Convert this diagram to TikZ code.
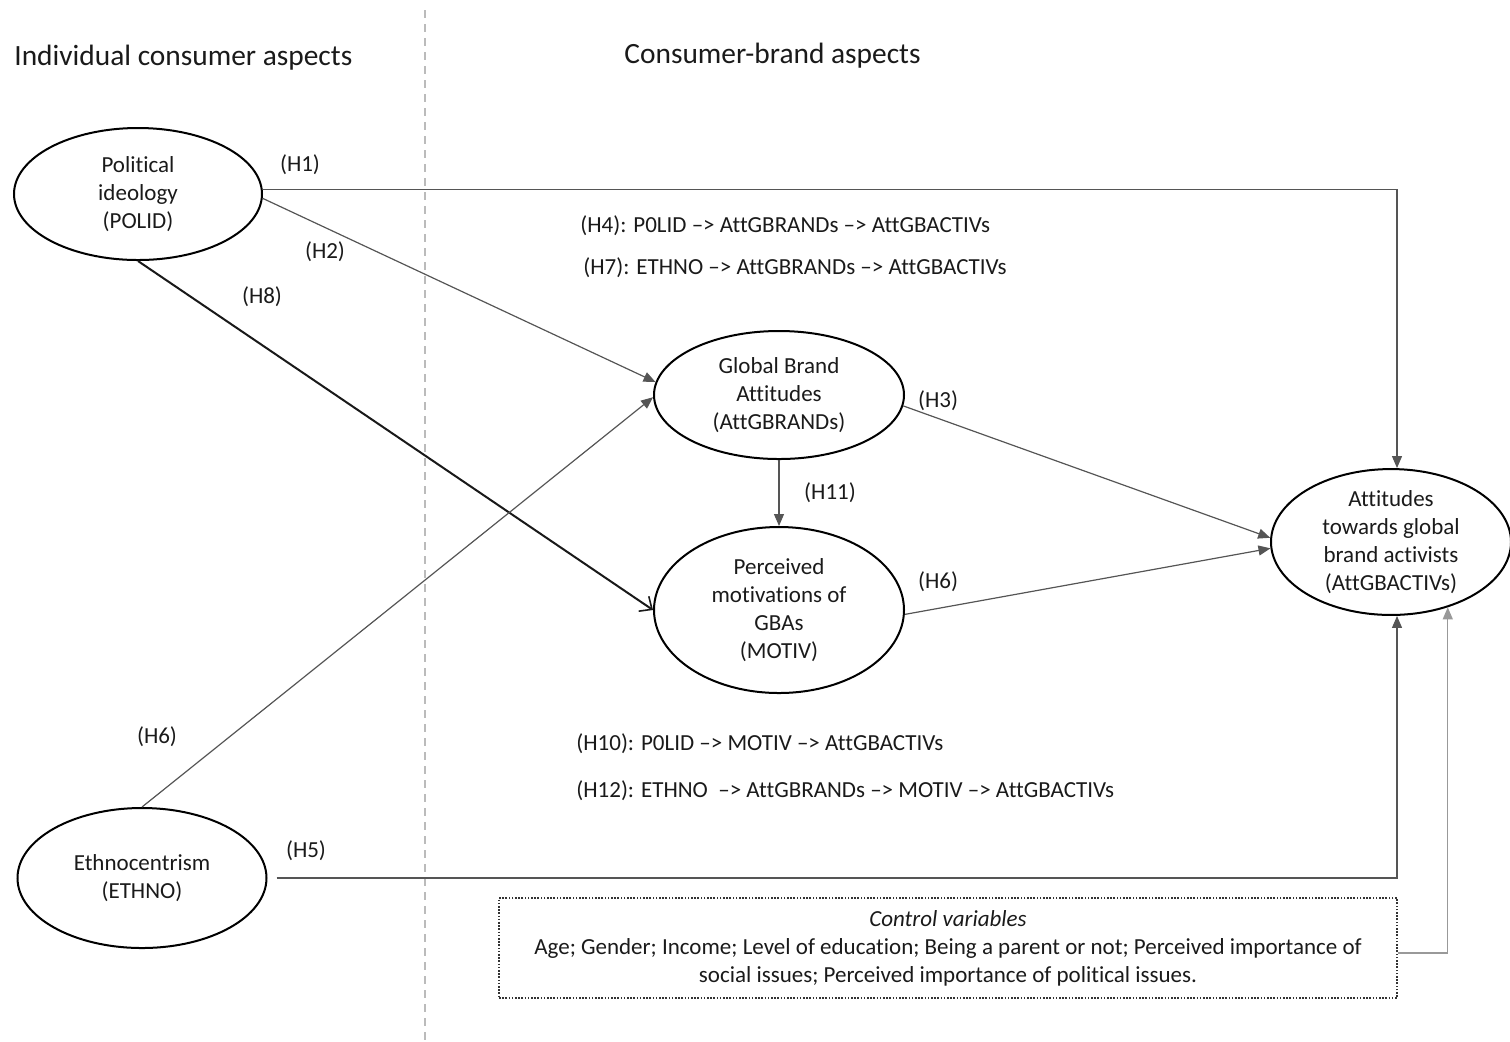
\documentclass[tikz,border=0pt]{standalone}
\usepackage{fontspec}
\setmainfont{Carlito}[Ligatures={NoCommon}]
\usetikzlibrary{shapes.geometric,arrows.meta}
\definecolor{txtc}{HTML}{1A1A1A}
\definecolor{connc}{HTML}{555555}
\definecolor{sepc}{HTML}{BBBBBB}
\begin{document}
\begin{tikzpicture}[x=0.5pt,y=-0.5pt,
  txt/.style={font=\fontsize{11.5}{14}\selectfont, text=txtc, inner sep=0pt},
  head/.style={font=\fontsize{14.7}{17}\selectfont, text=txtc, inner sep=0pt, anchor=west},
  var/.style={draw=black, ellipse, line width=1pt, align=center, text=txtc,
              font=\fontsize{11.5}{14}\selectfont, inner sep=0pt},
  conn/.style={draw=connc, line width=0.6pt, -{Triangle[length=6pt,width=5pt]}},
  thickconn/.style={draw=black!90, line width=1pt, -{Straight Barb[length=5pt,width=9pt,line width=0.8pt]}},
  ctrlconn/.style={draw=black!40, line width=0.6pt, -{Triangle[length=6pt,width=5pt]}},
  ctrlbox/.style={draw=black!80, line width=0.6pt, dash pattern=on 0.8pt off 0.8pt,
                  align=center, text=txtc, font=\fontsize{11.5}{14}\selectfont,
                  minimum width=449pt, minimum height=50pt, inner sep=0pt}
]
\useasboundingbox (0,0) rectangle (1510,1041);

% separator
\coordinate (septop) at (425,10);
\coordinate (sepbot) at (425,1041);
\draw[sepc, line width=0.8pt, dash pattern=on 4pt off 3pt] (septop) -- (sepbot);

% headings
\node[head] (h1) at (14,58) {Individual consumer aspects};
\node[head] (h2) at (624,56) {Consumer-brand aspects};

% variables
\node[var, minimum width=124pt, minimum height=66pt] (POLID) at (138,194) {Political\\ideology\\(POLID)};
\node[var, minimum width=125pt, minimum height=64pt] (GBA) at (779,395) {Global Brand\\Attitudes\\(AttGBRANDs)};
\node[var, minimum width=125pt, minimum height=83pt] (MOTIV) at (779,610) {Perceived\\motivations of\\GBAs\\(MOTIV)};
\node[var, minimum width=120pt, minimum height=70pt] (ATT) at (1391,542) {Attitudes\\towards global\\brand activists\\(AttGBACTIVs)};
\node[var, minimum width=124.5pt, minimum height=70pt] (ETHNO) at (142,878) {Ethnocentrism\\(ETHNO)};

% control box
\node[ctrlbox] (CTRL) at (948,948) {\textit{Control variables}\\Age; Gender; Income; Level of education; Being a parent or not; Perceived importance of\\social issues; Perceived importance of political issues.};

% connectors
\draw[conn] (POLID.2) -| ([xshift=3pt]ATT.north);
\draw[conn] (POLID.-2) -- (GBA.174);
\draw[thickconn] (POLID.south) -- (MOTIV.west);
\draw[conn] (ETHNO.north) -- (GBA.181);
\draw[conn] ([xshift=4.5pt]ETHNO.east) -| ([xshift=3pt]ATT.south);
\draw[conn] (GBA.-5) -- (ATT.178);
\draw[conn] (MOTIV.-2) -- (ATT.183);
\draw[conn] (GBA.south) -- (MOTIV.north);
\draw[ctrlconn] ([yshift=-2.5pt]CTRL.east) -| (ATT.-49.4);

% labels
\node[txt] (lH1) at (300,165) {(H1)};
\node[txt] (lH2) at (325,252) {(H2)};
\node[txt] (lH8) at (262,297) {(H8)};
\node[txt] (lH3) at (938,401) {(H3)};
\node[txt] (lH11) at (830,493) {(H11)};
\node[txt] (lH6r) at (938,582) {(H6)};
\node[txt] (lH6l) at (157,737) {(H6)};
\node[txt] (lH5) at (306,851) {(H5)};

% mediation paths
\node[txt, anchor=west] (p4) at (580,226) {(H4): P0LID –> AttGBRANDs –> AttGBACTIVs};
\node[txt, anchor=west] (p7) at (583,268) {(H7): ETHNO –> AttGBRANDs –> AttGBACTIVs};
\node[txt, anchor=west] (p10) at (576,744) {(H10): P0LID –> MOTIV –> AttGBACTIVs};
\node[txt, anchor=west] (p12) at (576,791) {(H12): ETHNO\ \ –> AttGBRANDs –> MOTIV –> AttGBACTIVs};
\end{tikzpicture}
\end{document}
